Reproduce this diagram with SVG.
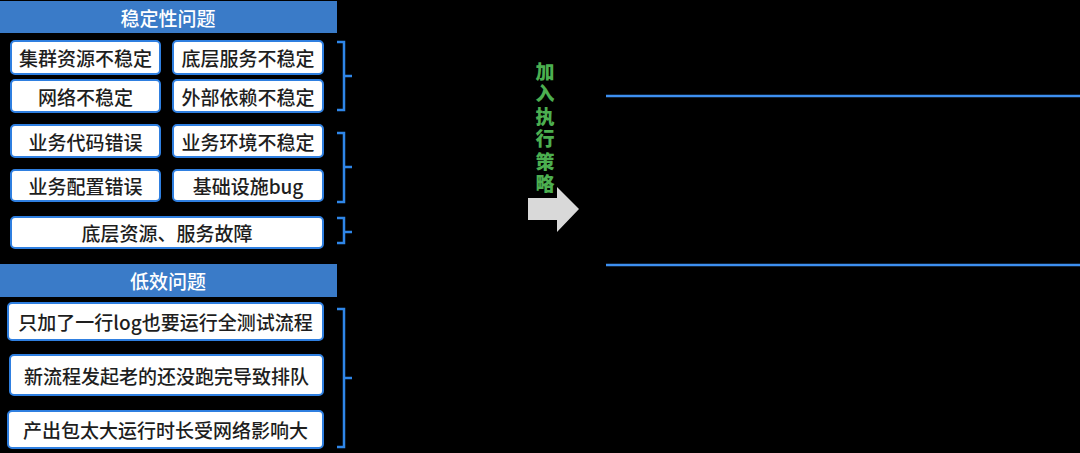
<svg xmlns="http://www.w3.org/2000/svg" width="1080" height="453" viewBox="0 0 1080 453">
<style>
.hdr{fill:#3a7bc8}
.hdrt{fill:#ffffff;font-family:"Noto Sans CJK SC","Noto Sans",sans-serif;font-size:19px;font-weight:500;text-anchor:middle;dominant-baseline:central}
.box{fill:#ffffff;stroke:#2f7fe0;stroke-width:2}
.bt{fill:#1e1e1e;font-family:"Noto Sans CJK SC","Noto Sans",sans-serif;font-size:19px;font-weight:500;text-anchor:middle;dominant-baseline:central}
.br{fill:none;stroke:#2f86e8;stroke-width:2.5}
.gt{fill:#4caf50;font-family:"Noto Sans CJK SC","Noto Sans",sans-serif;font-size:19px;font-weight:900;writing-mode:vertical-rl;text-orientation:upright;letter-spacing:3.5px}
.ln{stroke:#3d8ff0;stroke-width:2.5}
</style>
<rect x="0" y="0" width="1080" height="453" fill="#000000"/>
<g id="header-stability">
<rect class="hdr" x="0" y="1" width="337" height="32"/>
<text class="hdrt" x="168" y="17">稳定性问题</text>
</g>
<g id="n1"><rect class="box" x="11" y="41" width="149" height="33" rx="4"/><text class="bt" x="85.5" y="57.5">集群资源不稳定</text></g>
<g id="n2"><rect class="box" x="173" y="41" width="150" height="33" rx="4"/><text class="bt" x="248" y="57.5">底层服务不稳定</text></g>
<g id="n3"><rect class="box" x="11" y="80" width="149" height="32" rx="4"/><text class="bt" x="85.5" y="96">网络不稳定</text></g>
<g id="n4"><rect class="box" x="173" y="80" width="150" height="32" rx="4"/><text class="bt" x="248" y="96">外部依赖不稳定</text></g>
<g id="n5"><rect class="box" x="11" y="125" width="149" height="32" rx="4"/><text class="bt" x="85.5" y="141">业务代码错误</text></g>
<g id="n6"><rect class="box" x="173" y="125" width="150" height="32" rx="4"/><text class="bt" x="248" y="141">业务环境不稳定</text></g>
<g id="n7"><rect class="box" x="11" y="170" width="149" height="31" rx="4"/><text class="bt" x="85.5" y="185.5">业务配置错误</text></g>
<g id="n8"><rect class="box" x="173" y="170" width="150" height="31" rx="4"/><text class="bt" x="248" y="185.5">基础设施bug</text></g>
<g id="n9"><rect class="box" x="11" y="217" width="312" height="31" rx="4"/><text class="bt" x="167" y="232.5">底层资源、服务故障</text></g>
<g id="header-efficiency">
<rect class="hdr" x="0" y="264" width="337" height="33"/>
<text class="hdrt" x="168" y="280.5">低效问题</text>
</g>
<g id="n10"><rect class="box" x="8" y="303" width="315" height="37" rx="4"/><text class="bt" x="165.5" y="321.5">只加了一行log也要运行全测试流程</text></g>
<g id="n11"><rect class="box" x="10" y="355" width="313" height="40" rx="4"/><text class="bt" x="166.5" y="375">新流程发起老的还没跑完导致排队</text></g>
<g id="n12"><rect class="box" x="8" y="411" width="315" height="37" rx="4"/><text class="bt" x="165.5" y="429.5">产出包太大运行时长受网络影响大</text></g>
<g id="connectors">
<path class="br" d="M337 42 H344 V110 H337 M344 76 H352"/>
<path class="br" d="M337 133 H344 V202 H337 M344 167 H352"/>
<path class="br" d="M337 218 H344 V243 H337 M344 232 H352"/>
<path class="br" d="M337 309 H344 V447 H337 M344 378 H352"/>
<polygon points="528,198 557,198 557,187 579,209 557,232 557,220 528,220" fill="#d9d9d9"/>
<line class="ln" x1="606" y1="96" x2="1080" y2="96"/>
<line class="ln" x1="606" y1="265" x2="1080" y2="265"/>
</g>
<g id="label-strategy">
<text class="gt" x="545" y="62">加入执行策略</text>
</g>
</svg>
